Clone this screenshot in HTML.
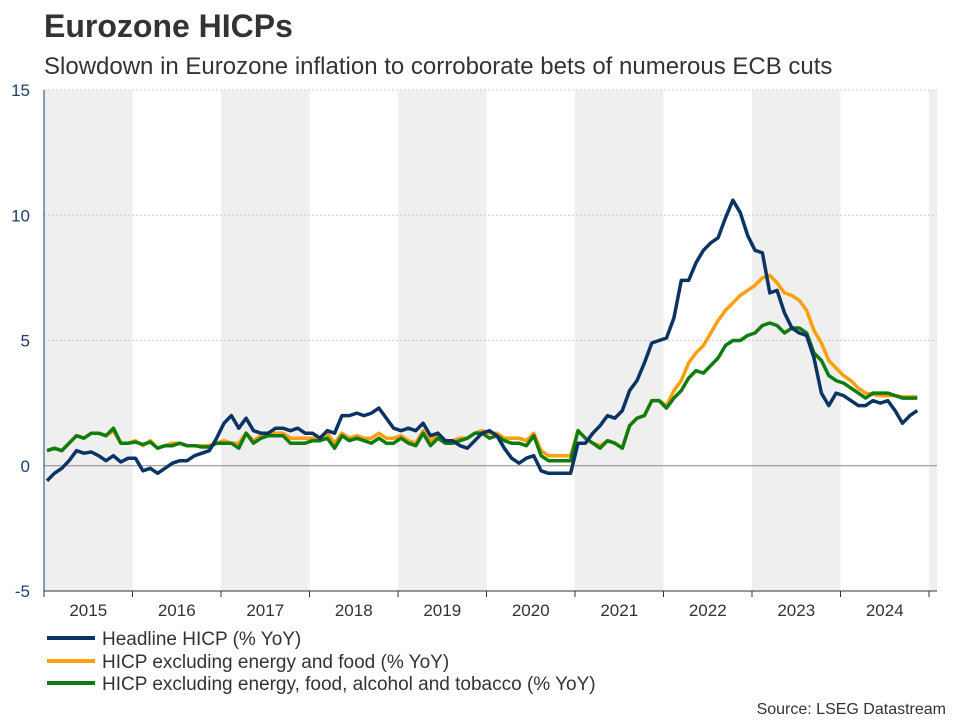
<!DOCTYPE html>
<html><head><meta charset="utf-8"><style>
body{margin:0;background:#fff;font-family:"Liberation Sans",sans-serif;}
svg text{font-family:"Liberation Sans",sans-serif;}
</style></head><body>
<svg width="960" height="720" viewBox="0 0 960 720">
<text x="44" y="37" font-size="32" font-weight="bold" fill="#333">Eurozone HICPs</text>
<text x="44" y="74" font-size="24" fill="#333">Slowdown in Eurozone inflation to corroborate bets of numerous ECB cuts</text>
<g id="bands"></g><g id="grid"></g><g id="axes"></g><g id="lines"></g>
<g font-size="19" fill="#333">
<line x1="47" y1="638" x2="95" y2="638" stroke="#0b3364" stroke-width="4"/>
<text x="102" y="645">Headline HICP (% YoY)</text>
<line x1="47" y1="661" x2="95" y2="661" stroke="#ff9e0f" stroke-width="4"/>
<text x="102" y="668">HICP excluding energy and food (% YoY)</text>
<line x1="47" y1="683" x2="95" y2="683" stroke="#0f7c0f" stroke-width="4"/>
<text x="102" y="690">HICP excluding energy, food, alcohol and tobacco (% YoY)</text>
</g>
<text x="946" y="714" font-size="16" fill="#333" text-anchor="end">Source: LSEG Datastream</text>
</svg>
<script>
const years=["2015","2016","2017","2018","2019","2020","2021","2022","2023","2024"];
const yTicks=[-5,0,5,10,15];
const headline=[-0.6,-0.3,-0.1,0.2,0.6,0.5,0.55,0.4,0.2,0.4,0.15,0.3,
0.3,-0.2,-0.1,-0.3,-0.1,0.1,0.2,0.2,0.4,0.5,0.6,1.1,
1.7,2.0,1.5,1.9,1.4,1.3,1.3,1.5,1.5,1.4,1.5,1.3,
1.3,1.1,1.4,1.3,2.0,2.0,2.1,2.0,2.1,2.3,1.9,1.5,
1.4,1.5,1.4,1.7,1.2,1.3,1.0,1.0,0.8,0.7,1.0,1.3,
1.4,1.2,0.7,0.3,0.1,0.3,0.4,-0.2,-0.3,-0.3,-0.3,-0.3,
0.9,0.9,1.3,1.6,2.0,1.9,2.2,3.0,3.4,4.1,4.9,5.0,
5.1,5.9,7.4,7.4,8.1,8.6,8.9,9.1,9.9,10.6,10.1,9.2,
8.6,8.5,6.9,7.0,6.1,5.5,5.3,5.2,4.3,2.9,2.4,2.9,
2.8,2.6,2.4,2.4,2.6,2.5,2.6,2.2,1.7,2.0,2.2];
const exEnergyFood=[0.6,0.7,0.6,0.9,1.2,1.1,1.3,1.3,1.2,1.4,0.9,0.9,
1.0,0.8,1.0,0.7,0.8,0.9,0.9,0.8,0.8,0.8,0.8,0.9,
1.0,0.9,0.9,1.3,1.0,1.2,1.3,1.3,1.3,1.1,1.1,1.1,
1.1,1.1,1.3,0.9,1.3,1.1,1.2,1.1,1.1,1.3,1.1,1.1,
1.2,1.0,0.9,1.4,1.0,1.2,1.0,1.0,1.1,1.1,1.3,1.4,
1.3,1.3,1.1,1.1,1.1,1.0,1.3,0.6,0.4,0.4,0.4,0.4,
1.4,1.1,0.9,0.8,1.0,0.9,0.7,1.6,1.9,2.0,2.6,2.6,
2.4,3.0,3.4,4.1,4.5,4.8,5.3,5.8,6.2,6.5,6.8,7.0,
7.2,7.5,7.6,7.3,6.9,6.8,6.6,6.2,5.4,4.9,4.2,3.9,
3.6,3.4,3.1,2.9,2.85,2.8,2.8,2.8,2.75,2.75,2.75];
const core=[0.6,0.7,0.6,0.9,1.2,1.1,1.3,1.3,1.2,1.5,0.9,0.9,
0.95,0.85,0.95,0.7,0.8,0.8,0.9,0.8,0.8,0.75,0.75,0.9,
0.9,0.9,0.7,1.3,0.9,1.1,1.2,1.2,1.2,0.9,0.9,0.9,
1.0,1.0,1.1,0.7,1.2,1.0,1.1,1.0,0.9,1.1,0.9,0.9,
1.1,0.9,0.8,1.3,0.8,1.1,0.9,0.9,1.0,1.1,1.3,1.3,
1.1,1.2,1.0,0.9,0.9,0.8,1.2,0.4,0.2,0.2,0.2,0.2,
1.4,1.1,0.9,0.7,1.0,0.9,0.7,1.6,1.9,2.0,2.6,2.6,
2.3,2.7,3.0,3.5,3.8,3.7,4.0,4.3,4.8,5.0,5.0,5.2,
5.3,5.6,5.7,5.6,5.3,5.5,5.5,5.3,4.5,4.2,3.6,3.4,
3.3,3.1,2.9,2.7,2.9,2.9,2.9,2.8,2.7,2.7,2.7];
const NS="http://www.w3.org/2000/svg";
const X0=44,X1=937,Y0=90,Y1=591,yMin=-5,yMax=15,yearW=88.5;
const xYear=i=>X0+i*yearW;
const xMonth=m=>X0+3+m*(yearW/12);
const y=v=>Y1-(v-yMin)/(yMax-yMin)*(Y1-Y0);
function mk(t,a,p){const e=document.createElementNS(NS,t);for(const k in a)e.setAttribute(k,a[k]);p.appendChild(e);return e;}
const bands=document.getElementById('bands');
for(let i=0;i<=years.length;i+=2){
 const x=xYear(i);const w=Math.min(yearW,X1-x);
 const r=mk('rect',{x:x,y:Y0,width:w,height:Y1-Y0,fill:'#efefef'},bands);
 
 
}
const grid=document.getElementById('grid');
yTicks.forEach(t=>{
 if(t===0){const l=mk('line',{x1:X0,x2:X1,y1:y(t),y2:y(t),stroke:'#888','stroke-width':1},grid);
  }
 else if(t>yMin){const l=mk('line',{x1:X0,x2:X1,y1:y(t),y2:y(t),stroke:'#ccc','stroke-dasharray':'2,2'},grid);
  }
 const tx=mk('text',{x:30,y:y(t)+6,'font-size':17,fill:'#1f3d6e','text-anchor':'end'},grid);
 tx.textContent=t;
 
 
});
const axes=document.getElementById('axes');
mk('line',{x1:X0,x2:X0,y1:Y0,y2:Y1,stroke:'#1f3d6e','stroke-width':1},axes);
mk('line',{x1:X0,x2:X1,y1:Y1,y2:Y1,stroke:'#333','stroke-width':1},axes);
for(let i=0;i<=years.length;i++){mk('line',{x1:xYear(i),x2:xYear(i),y1:Y1,y2:Y1+6,stroke:'#333'},axes);}
years.forEach((yr,i)=>{
 const t=mk('text',{x:xYear(i)+yearW/2,y:Y1+25,'font-size':17,fill:'#333','text-anchor':'middle'},axes);
 t.textContent=yr;
 
 
});
const lines=document.getElementById('lines');
function series(arr,color,name){
 const d=arr.map((v,i)=>(i?'L':'M')+xMonth(i).toFixed(1)+','+y(v).toFixed(1)).join('');
 const p=mk('path',{d:d,fill:'none',stroke:color,'stroke-width':3.5,'stroke-linejoin':'round'},lines);
 
 
}
series(exEnergyFood,'#ff9e0f','line-ex-energy-food');
series(core,'#0f7c0f','line-core');
series(headline,'#0b3364','line-headline');
</script>
</body></html>
